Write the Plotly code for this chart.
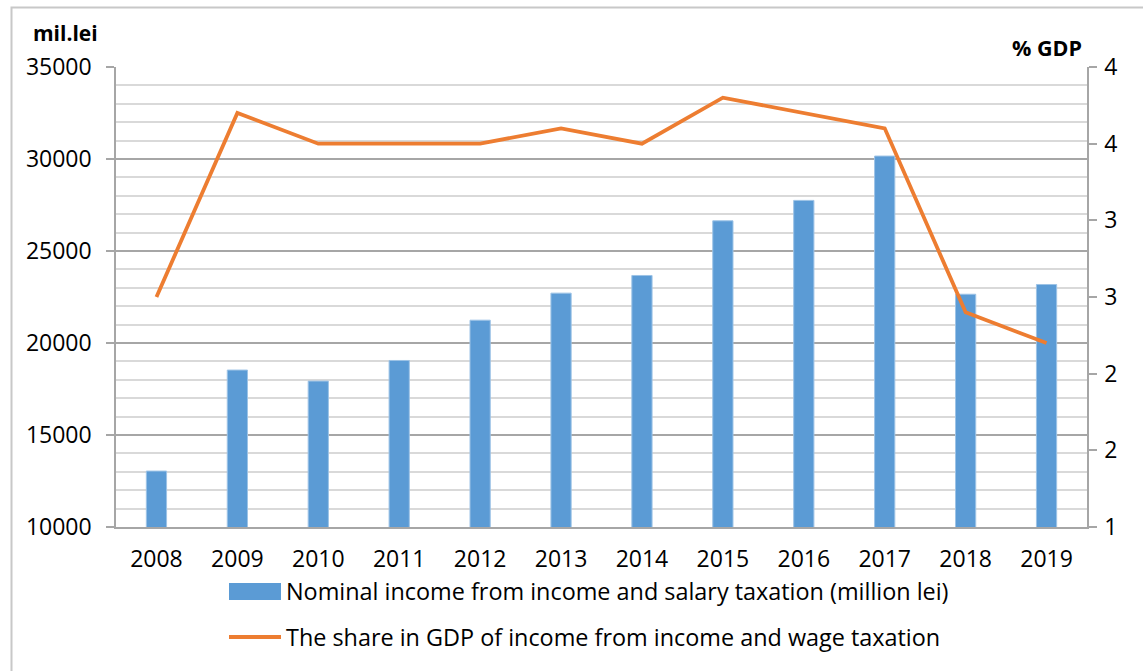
import plotly.graph_objects as go

years = ["2008", "2009", "2010", "2011", "2012", "2013", "2014", "2015", "2016", "2017", "2018", "2019"]
nominal_income = [13040, 18530, 17930, 19050, 21240, 22710, 23670, 26640, 27750, 30160, 22650, 23180]
gdp_share = [2.5, 3.7, 3.5, 3.5, 3.5, 3.6, 3.5, 3.8, 3.7, 3.6, 2.4, 2.2]

bar_name = "Nominal income from income and salary taxation (million lei)"
line_name = "The share in GDP of income from income and wage taxation"

W_FIG, H_FIG = 1143, 671
L, R, T, B = 116, 56, 67, 144
PW = W_FIG - L - R
PH = H_FIG - T - B

def px2x(px):
    return (px - L) / PW

def px2y(py):
    return (H_FIG - B - py) / PH

FONT = "Open Sans"
BLUE = "#5B9BD5"
ORANGE = "#ED7D31"
AXIS = "#a6a6a6"
TICK_SIZE = 23
LEG_SIZE = 23.4

fig = go.Figure()
fig.add_trace(go.Bar(
    x=years, y=nominal_income, name=bar_name,
    marker=dict(color=BLUE, line=dict(color="#9DC3E6", width=1)),
    width=0.25, showlegend=False,
))
fig.add_trace(go.Scatter(
    x=years, y=gdp_share, name=line_name, yaxis="y2", mode="lines",
    line=dict(color=ORANGE, width=3.8), showlegend=False,
))

shapes = [
    dict(type="rect", xref="paper", yref="paper",
         x0=px2x(11.5), x1=px2x(1170), y0=px2y(690), y1=px2y(7.5),
         line=dict(color="#c8c8c8", width=2), layer="below"),
    dict(type="rect", xref="paper", yref="paper",
         x0=px2x(229), x1=px2x(281), y0=px2y(600), y1=px2y(583),
         fillcolor=BLUE, line=dict(width=0)),
    dict(type="line", xref="paper", yref="paper",
         x0=px2x(229), x1=px2x(281), y0=px2y(637), y1=px2y(637),
         line=dict(color=ORANGE, width=3.8)),
]

annotations = [
    dict(text=bar_name, xref="paper", yref="paper", x=px2x(284), y=px2y(591),
         xanchor="left", yanchor="middle", showarrow=False,
         font=dict(family=FONT, size=LEG_SIZE, color="black")),
    dict(text=line_name, xref="paper", yref="paper", x=px2x(284), y=px2y(637),
         xanchor="left", yanchor="middle", showarrow=False,
         font=dict(family=FONT, size=LEG_SIZE, color="black")),
    dict(text="<b>mil.lei</b>", xref="paper", yref="paper", x=px2x(31), y=px2y(33),
         xanchor="left", yanchor="middle", showarrow=False,
         font=dict(family=FONT, size=21, color="black")),
    dict(text="<b>% GDP</b>", xref="paper", yref="paper", x=px2x(1084), y=px2y(47),
         xanchor="right", yanchor="middle", showarrow=False,
         font=dict(family=FONT, size=21.5, color="black")),
]

fig.update_layout(
    width=W_FIG, height=H_FIG,
    margin=dict(l=L, r=R, t=T, b=B, pad=0),
    paper_bgcolor="white", plot_bgcolor="white",
    font=dict(family=FONT, size=TICK_SIZE, color="black"),
    bargap=0.75,
    showlegend=False,
    shapes=shapes,
    annotations=annotations,
    xaxis=dict(
        showline=True, linecolor=AXIS, linewidth=1.5, ticks="",
        showgrid=False, tickfont=dict(size=TICK_SIZE), ticklabelstandoff=11,
    ),
    yaxis=dict(
        range=[10000, 35000], dtick=5000, tick0=10000, tickformat="d",
        showgrid=True, gridcolor=AXIS, gridwidth=1.5,
        minor=dict(dtick=1000, showgrid=True, gridcolor="#d9d9d9", gridwidth=1.5, ticks=""),
        ticks="outside", ticklen=8, tickcolor=AXIS, tickwidth=1.5,
        showline=True, linecolor=AXIS, linewidth=1.5, zeroline=False,
        tickfont=dict(size=TICK_SIZE), ticklabelstandoff=10,
    ),
    yaxis2=dict(
        overlaying="y", side="right", range=[1, 4], dtick=0.5, tick0=1,
        tickformat=".0f", showgrid=False, zeroline=False,
        ticks="outside", ticklen=8, tickcolor=AXIS, tickwidth=1.5,
        showline=True, linecolor=AXIS, linewidth=1.5,
        tickfont=dict(size=TICK_SIZE), ticklabelstandoff=3,
    ),
)

fig.write_html("out.html")
